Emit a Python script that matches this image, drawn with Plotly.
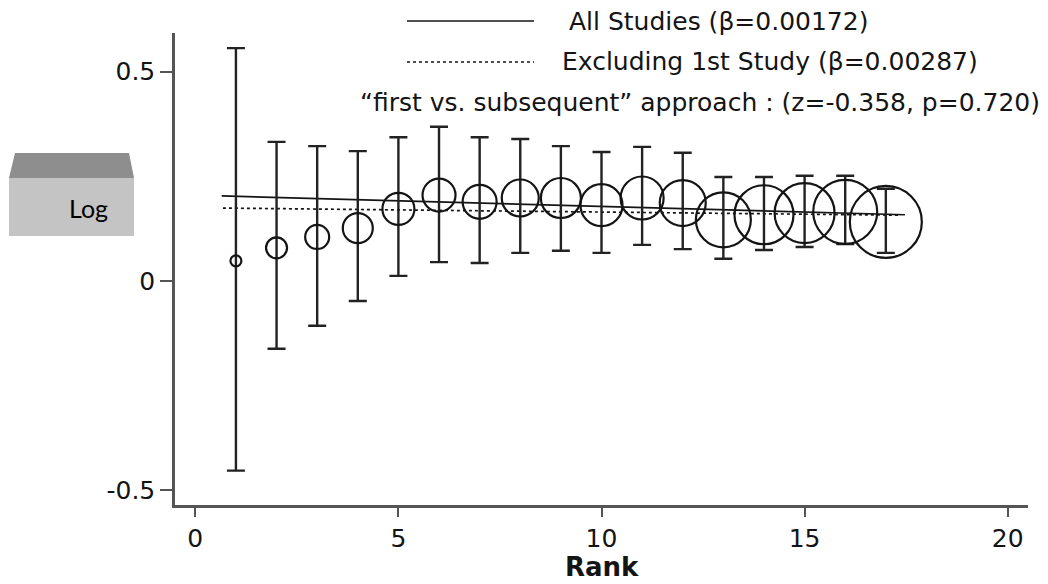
import plotly.graph_objects as go

# ---- data ----
rank = list(range(1, 18))
effect = [0.048, 0.079, 0.105, 0.126, 0.172, 0.205, 0.189, 0.198, 0.198,
          0.181, 0.198, 0.186, 0.146, 0.158, 0.162, 0.165, 0.141]
ci_high = [0.556, 0.332, 0.322, 0.310, 0.343, 0.368, 0.343, 0.339, 0.322,
           0.308, 0.320, 0.306, 0.248, 0.248, 0.251, 0.251, 0.220]
ci_low = [-0.453, -0.162, -0.107, -0.048, 0.012, 0.045, 0.043, 0.067, 0.072,
          0.067, 0.086, 0.076, 0.053, 0.074, 0.081, 0.088, 0.067]
weight_size = [11, 21, 24, 30, 32, 33, 34, 37, 40, 42, 43, 46, 55, 59, 60, 64, 72]

fit_all_x = [0.65, 17.47]
fit_all_y = [0.203, 0.158]
fit_excl_x = [0.68, 17.3]
fit_excl_y = [0.174, 0.157]

x_ticks = [0, 5, 10, 15, 20]
y_ticks = [-0.5, 0, 0.5]
y_tick_text = ["-0.5", "0", "0.5"]

x_title = "Rank"
legend_all = "All Studies (\u03b2=0.00172)"
legend_excl = "Excluding 1st Study (\u03b2=0.00287)"
legend_test = "\u201cfirst vs. subsequent\u201d approach : (z=-0.358, p=0.720)"
side_label = "Log"

# ---- layout geometry (pixels) ----
W, H = 1048, 584
L, R, T, B = 175, 20, 33, 79
PW, PH = W - L - R, H - T - B


def px(x):
    return (x - L) / PW


def py(y):
    return (H - B - y) / PH


INK = "#141414"
AX = "#555555"
FONT = "DejaVu Sans"

fig = go.Figure()

fig.add_trace(go.Scatter(
    x=fit_all_x, y=fit_all_y, mode="lines",
    line=dict(color=INK, width=1.7), showlegend=False, hoverinfo="skip"))
fig.add_trace(go.Scatter(
    x=fit_excl_x, y=fit_excl_y, mode="lines",
    line=dict(color=INK, width=1.7, dash="dot"), showlegend=False, hoverinfo="skip"))

fig.add_trace(go.Scatter(
    x=rank, y=effect, mode="markers",
    marker=dict(symbol="circle-open", size=weight_size, color=INK, opacity=1,
                line=dict(color=INK, width=2.2)),
    error_y=dict(type="data", symmetric=False,
                 array=[h - e for h, e in zip(ci_high, effect)],
                 arrayminus=[e - l for e, l in zip(effect, ci_low)],
                 color="#222222", thickness=2.4, width=9),
    showlegend=False))

shapes = []
# legend line samples
shapes.append(dict(type="line", xref="paper", yref="paper",
                   x0=px(407), x1=px(534), y0=py(21), y1=py(21),
                   line=dict(color=INK, width=1.7)))
shapes.append(dict(type="line", xref="paper", yref="paper",
                   x0=px(407), x1=px(534), y0=py(62), y1=py(62),
                   line=dict(color=INK, width=1.7, dash="dot")))
# "Log" box
shapes.append(dict(type="rect", xref="paper", yref="paper",
                   x0=px(9), x1=px(134), y0=py(236), y1=py(178),
                   fillcolor="#c4c4c4", line=dict(width=0), layer="above"))
shapes.append(dict(type="path", xref="paper", yref="paper",
                   path=f"M {px(9)} {py(178)} L {px(134)} {py(178)} L {px(129)} {py(153)} L {px(15)} {py(153)} Z",
                   fillcolor="#8e8e8e", line=dict(width=0), layer="above"))

annotations = [
    dict(text=legend_all, xref="paper", yref="paper", x=px(567), y=py(21),
         xanchor="left", yanchor="middle", showarrow=False,
         font=dict(family=FONT, size=25, color=INK)),
    dict(text=legend_excl, xref="paper", yref="paper", x=px(560), y=py(62),
         xanchor="left", yanchor="middle", showarrow=False,
         font=dict(family=FONT, size=25, color=INK)),
    dict(text=legend_test, xref="paper", yref="paper", x=px(1042), y=py(102),
         xanchor="right", yanchor="middle", showarrow=False,
         font=dict(family=FONT, size=25, color=INK)),
    dict(text=side_label, xref="paper", yref="paper", x=px(88), y=py(208),
         xanchor="center", yanchor="middle", showarrow=False,
         font=dict(family="Lato", size=25, color="#000000")),
    dict(text=f"<b>{x_title}</b>", xref="paper", yref="paper", x=0.5, y=py(567),
         xanchor="center", yanchor="middle", showarrow=False,
         font=dict(family=FONT, size=26, color=INK)),
]

fig.update_layout(
    width=W, height=H,
    margin=dict(l=L, r=R, t=T, b=B, pad=0),
    paper_bgcolor="white", plot_bgcolor="white",
    shapes=shapes, annotations=annotations,
    xaxis=dict(range=[-0.5, 20.5], tickvals=x_ticks, showgrid=False, zeroline=False,
               automargin=False,
               showline=True, linecolor=AX, linewidth=2.5,
               ticks="outside", ticklen=9, tickwidth=2, tickcolor=AX,
               ticklabelstandoff=0,
               tickfont=dict(family=FONT, size=25, color=INK)),
    yaxis=dict(range=[-0.535, 0.592], tickvals=y_ticks, ticktext=y_tick_text,
               automargin=False,
               showgrid=False, zeroline=False,
               showline=True, linecolor=AX, linewidth=2.5,
               ticks="outside", ticklen=12, tickwidth=2, tickcolor=AX,
               tickfont=dict(family=FONT, size=25, color=INK)),
)

fig.write_html("out.html")
